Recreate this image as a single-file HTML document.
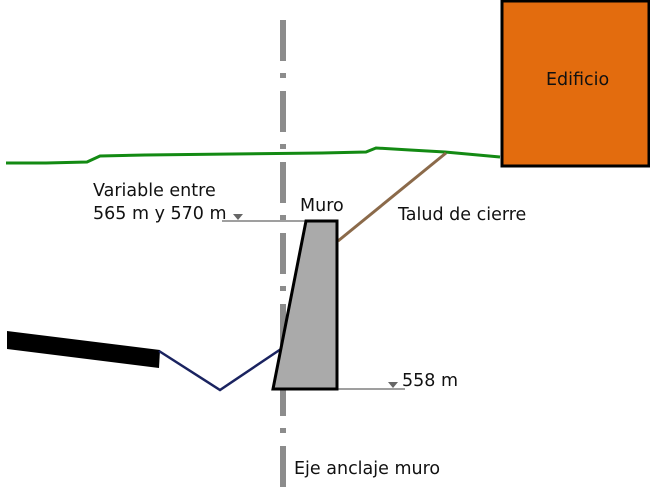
<!DOCTYPE html>
<html><head><meta charset="utf-8"><style>
html,body{margin:0;padding:0;background:#fff;width:650px;height:495px;overflow:hidden}
svg text{font-family:"DejaVu Sans","Liberation Sans",sans-serif;font-size:17.5px;fill:#111}
</style></head><body>
<svg width="650" height="495" viewBox="0 0 650 495" xmlns="http://www.w3.org/2000/svg">
<rect x="502" y="1" width="147" height="165" fill="#e36c0e" stroke="#000" stroke-width="3"/>
<text x="546" y="85">Edificio</text>
<polyline points="6,163 46,163 87,162 100,156 145,155 232,154 322,153 366,152 376,148 410,150 445,152 500,157" fill="none" stroke="#138a13" stroke-width="3"/>
<line x1="446" y1="153" x2="338" y2="241" stroke="#8b6a4a" stroke-width="3"/>
<line x1="283" y1="20" x2="283" y2="495" stroke="#8c8c8c" stroke-width="6" stroke-dasharray="41 12 5 13"/>
<polygon points="7,331 160,350 159,368 7,349" fill="#000"/>
<polyline points="159,351 220,390 281,349" fill="none" stroke="#1a2360" stroke-width="2.5"/>
<line x1="222" y1="221" x2="306" y2="221" stroke="#666" stroke-width="1.2"/>
<polygon points="233,214 243,214 238,220" fill="#666"/>
<line x1="337" y1="389" x2="405" y2="389" stroke="#666" stroke-width="1.2"/>
<polygon points="388,382 398,382 393,388" fill="#666"/>
<polygon points="306,221 337,221 337,389 273,389" fill="#aaa" stroke="#000" stroke-width="3"/>
<text x="300" y="211">Muro</text>
<text x="93" y="196">Variable entre</text>
<text x="93" y="219">565 m y 570 m</text>
<text x="398" y="220">Talud de cierre</text>
<text x="402" y="386">558 m</text>
<text x="294" y="474">Eje anclaje muro</text>
</svg>
</body></html>
